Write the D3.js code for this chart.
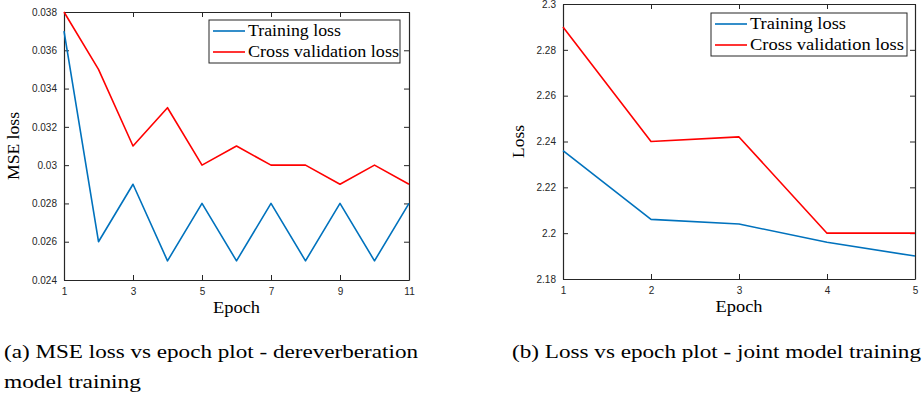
<!DOCTYPE html>
<html>
<head>
<meta charset="utf-8">
<script src="https://cdn.jsdelivr.net/npm/d3@7"></script>
<style>
  body { margin: 0; background: #fff; }
  svg { display: block; }
</style>
</head>
<body>
<div id="chart"></div>
<script>
// --------------------------------------
//  Data
// --------------------------------------

const epochsA = [1, 2, 3, 4, 5, 6, 7, 8, 9, 10, 11];
const trainA = [0.037, 0.026, 0.029, 0.025, 0.028, 0.025, 0.028, 0.025, 0.028, 0.025, 0.028];
const cvA = [0.038, 0.035, 0.031, 0.033, 0.030, 0.031, 0.030, 0.030, 0.029, 0.030, 0.029];
const xTicksA = [1, 3, 5, 7, 9, 11];
const yTicksA = [0.024, 0.026, 0.028, 0.030, 0.032, 0.034, 0.036, 0.038];

const epochsB = [1, 2, 3, 4, 5];
const trainB = [2.236, 2.206, 2.204, 2.196, 2.190];
const cvB = [2.290, 2.240, 2.242, 2.200, 2.200];
const xTicksB = [1, 2, 3, 4, 5];
const yTicksB = [2.18, 2.20, 2.22, 2.24, 2.26, 2.28, 2.30];

const seriesNames = ["Training loss", "Cross validation loss"];

// --------------------------------------
//  Canvas
// --------------------------------------

const width = 924, height = 401;
const axisColor = "#262626";
const colors = ["#0072BD", "#FF0000"];
const serif = "'Liberation Serif', 'Times New Roman', serif";
const sans = "'Liberation Sans', Arial, sans-serif";

const svg = d3.select("#chart")
  .append("svg")
  .attr("width", width)
  .attr("height", height)
  .attr("viewBox", [0, 0, width, height]);

// serif text, stretched to the width the LaTeX font takes
function serifText(sel, size, len) {
  sel.style("font-family", serif).style("font-size", size + "px");
  if (len) sel.attr("textLength", len).attr("lengthAdjust", "spacingAndGlyphs");
  return sel;
}

function drawPanel(p) {
  const g = svg.append("g");

  const x = d3.scaleLinear()
    .domain(d3.extent(p.xTicks))
    .range([p.left, p.right]);

  const y = d3.scaleLinear()
    .domain(d3.extent(p.yTicks))
    .range([p.bottom, p.top]);

  const fmt = d3.format("~g");

  // axes (MATLAB style box, ticks pointing in)
  const axes = [
    [d3.axisBottom(x).tickValues(p.xTicks).tickFormat(fmt).tickPadding(8), `translate(0,${p.bottom})`],
    [d3.axisTop(x).tickValues(p.xTicks).tickFormat(""), `translate(0,${p.top})`],
    [d3.axisLeft(y).tickValues(p.yTicks).tickFormat(fmt).tickPadding(7), `translate(${p.left},0)`],
    [d3.axisRight(y).tickValues(p.yTicks).tickFormat(""), `translate(${p.right},0)`]
  ];
  axes.forEach(([ax, tr]) => {
    const a = g.append("g")
      .attr("transform", tr)
      .call(ax.tickSizeInner(-5).tickSizeOuter(0));
    a.select(".domain").attr("stroke", axisColor).attr("stroke-width", 1.2);
    a.selectAll(".tick line").attr("stroke", axisColor).attr("stroke-width", 1);
    a.selectAll(".tick text")
      .attr("fill", axisColor)
      .style("font-family", sans)
      .style("font-size", "10px");
  });

  // lines
  const line = d3.line()
    .x(d => x(d[0]))
    .y(d => y(d[1]));

  [p.train, p.cv].forEach((vals, i) => {
    g.append("path")
      .datum(p.epochs.map((e, j) => [e, vals[j]]))
      .attr("fill", "none")
      .attr("stroke", colors[i])
      .attr("stroke-width", 1.6)
      .attr("stroke-linejoin", "round")
      .attr("d", line);
  });

  // axis labels
  g.append("text")
    .attr("x", (p.left + p.right) / 2)
    .attr("y", p.bottom + 33)
    .attr("text-anchor", "middle")
    .call(serifText, 17, 47)
    .text("Epoch");

  g.append("text")
    .attr("transform", `translate(${p.ylabelX},${(p.top + p.bottom) / 2}) rotate(-90)`)
    .attr("text-anchor", "middle")
    .call(serifText, 17, p.ylabelLen)
    .text(p.ylabel);

  // legend
  const lg = g.append("g").attr("transform", `translate(${p.legend[0]},${p.legend[1]})`);
  lg.append("rect")
    .attr("width", p.legend[2])
    .attr("height", 43)
    .attr("fill", "#fff")
    .attr("stroke", axisColor)
    .attr("stroke-width", 1);
  seriesNames.forEach((name, i) => {
    const yy = 11 + i * 21;
    lg.append("line")
      .attr("x1", 4).attr("x2", 36)
      .attr("y1", yy).attr("y2", yy)
      .attr("stroke", colors[i])
      .attr("stroke-width", 1.6);
    lg.append("text")
      .attr("x", 39)
      .attr("y", yy + 5)
      .call(serifText, 17, p.legendLens[i])
      .text(name);
  });

  // caption
  p.caption.forEach((c, i) => {
    svg.append("text")
      .attr("x", p.captionX)
      .attr("y", 358 + i * 30)
      .call(serifText, 19, p.captionLens[i])
      .text(c);
  });
}

drawPanel({
  left: 64, right: 409, top: 12, bottom: 280,
  epochs: epochsA, train: trainA, cv: cvA,
  xTicks: xTicksA, yTicks: yTicksA,
  ylabel: "MSE loss", ylabelX: 19, ylabelLen: 68,
  legend: [209, 20, 191], legendLens: [93, 151],
  caption: ["(a) MSE loss vs epoch plot - dereverberation", "model training"],
  captionLens: [414, 137],
  captionX: 4
});

drawPanel({
  left: 563, right: 915, top: 4, bottom: 279,
  epochs: epochsB, train: trainB, cv: cvB,
  xTicks: xTicksB, yTicks: yTicksB,
  ylabel: "Loss", ylabelX: 524, ylabelLen: 33,
  legend: [711, 13, 196], legendLens: [96, 154],
  caption: ["(b) Loss vs epoch plot - joint model training"],
  captionLens: [409],
  captionX: 512
});
</script>
</body>
</html>
